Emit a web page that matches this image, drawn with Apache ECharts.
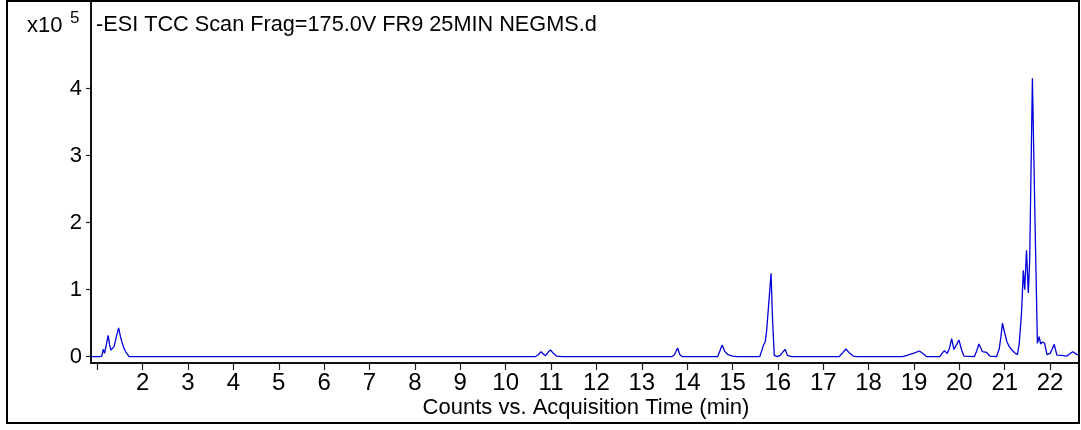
<!DOCTYPE html>
<html>
<head>
<meta charset="utf-8">
<script src="https://cdn.jsdelivr.net/npm/echarts@6/dist/echarts.min.js"></script>
<style>
  html, body { margin: 0; padding: 0; background: #fff; }
  #chart { width: 1081px; height: 430px; }
</style>
</head>
<body>
<div id="chart"></div>
<script>
// Retention time (min)
const times = [
  0.86, 1.05, 1.10, 1.13, 1.16, 1.20, 1.24, 1.27, 1.30, 1.34, 1.37, 1.42, 1.47, 1.51, 1.55, 1.59, 1.63, 1.70,
  10.65, 10.72, 10.78, 10.83, 10.88, 10.94, 10.99, 11.05, 11.12, 11.25,
  13.66, 13.72, 13.79, 13.84, 13.90,
  14.67, 14.72, 14.77, 14.83, 14.90, 15.00, 15.10,
  15.60, 15.65, 15.68, 15.72, 15.75, 15.80, 15.85, 15.88, 15.92, 15.99, 16.05, 16.10, 16.16, 16.21, 16.30,
  17.35, 17.43, 17.50, 17.57, 17.66, 17.75,
  18.75, 18.85, 18.91, 19.00, 19.12, 19.21, 19.28,
  19.57, 19.62, 19.67, 19.73, 19.78, 19.83, 19.88, 19.94, 19.99, 20.05, 20.10,
  20.33, 20.38, 20.43, 20.48, 20.51, 20.55, 20.60, 20.67, 20.82,
  20.88, 20.92, 20.95, 21.00, 21.05, 21.10, 21.16, 21.22, 21.28,
  21.32, 21.37, 21.41, 21.44, 21.48, 21.52, 21.55, 21.58, 21.61, 21.63, 21.67, 21.72,
  21.76, 21.79, 21.83, 21.88, 21.93, 22.00, 22.05, 22.09, 22.15, 22.25, 22.37, 22.45, 22.50, 22.59, 22.64
];
// Counts (x10^5)
const counts = [
  0.0, 0.0, 0.01, 0.11, 0.05, 0.07, 0.32, 0.18, 0.10, 0.11, 0.15, 0.30, 0.43, 0.30, 0.20, 0.12, 0.07, 0.0,
  0.0, 0.03, 0.075, 0.04, 0.015, 0.07, 0.10, 0.05, 0.01, 0.0,
  0.0, 0.03, 0.13, 0.03, 0.0,
  0.0, 0.08, 0.175, 0.08, 0.03, 0.01, 0.0,
  0.0, 0.10, 0.17, 0.22, 0.37, 0.80, 1.245, 0.60, 0.02, 0.0, 0.02, 0.06, 0.11, 0.02, 0.0,
  0.0, 0.06, 0.115, 0.06, 0.01, 0.0,
  0.0, 0.02, 0.035, 0.055, 0.085, 0.04, 0.0,
  0.0, 0.05, 0.09, 0.05, 0.12, 0.27, 0.11, 0.18, 0.25, 0.10, 0.01,
  0.0, 0.08, 0.19, 0.12, 0.075, 0.08, 0.065, 0.01, 0.0,
  0.12, 0.32, 0.50, 0.35, 0.22, 0.15, 0.10, 0.06, 0.03,
  0.20, 0.65, 1.29, 1.00, 1.59, 0.95, 1.44, 2.80, 4.155, 4.155, 1.94, 0.20,
  0.30, 0.19, 0.22, 0.20, 0.03, 0.05, 0.12, 0.185, 0.025, 0.02, 0.01, 0.05, 0.075, 0.035, 0.02
];
const xTickValues = [1,2,3,4,5,6,7,8,9,10,11,12,13,14,15,16,17,18,19,20,21,22];
const xLabelValues = [2,3,4,5,6,7,8,9,10,11,12,13,14,15,16,17,18,19,20,21,22];
const yTickValues = [0,1,2,3,4];
const titleText = '-ESI TCC Scan Frag=175.0V FR9 25MIN NEGMS.d';
const xAxisTitle = 'Counts vs. Acquisition Time (min)';

const seriesData = times.map((t, i) => [t, counts[i]]);
const FONT = "'Liberation Sans', Arial, sans-serif";

const chart = echarts.init(document.getElementById('chart'), null, { renderer: 'canvas' });
chart.setOption({
  animation: false,
  backgroundColor: '#ffffff',
  grid: { left: 91, top: 1, right: 2, bottom: 67, containLabel: false },
  xAxis: {
    type: 'value',
    min: 0.861,
    max: 22.637,
    axisLine: { show: true, onZero: false, lineStyle: { color: '#111', width: 2 } },
    axisTick: { show: true, customValues: xTickValues, length: 7, lineStyle: { color: '#222', width: 1.2 } },
    axisLabel: { show: true, customValues: xLabelValues, margin: 8, color: '#000', fontSize: 24, fontFamily: FONT },
    splitLine: { show: false }
  },
  yAxis: {
    type: 'value',
    min: -0.094,
    max: 5.309,
    axisLine: { show: true, onZero: false, lineStyle: { color: '#111', width: 2 } },
    axisTick: { show: true, customValues: yTickValues, length: 5, lineStyle: { color: '#222', width: 1.2 } },
    axisLabel: { show: true, customValues: yTickValues, margin: 9, color: '#000', fontSize: 22, fontFamily: FONT },
    splitLine: { show: false }
  },
  series: [{
    type: 'line',
    data: seriesData,
    showSymbol: false,
    smooth: false,
    lineStyle: { color: '#0000dd', width: 1.3 },
    clip: true
  }],
  graphic: [
    { type: 'rect', shape: { x: 7, y: 1, width: 1072, height: 422 }, style: { fill: 'none', stroke: '#000', lineWidth: 2 }, silent: true, z: 100 },
    { type: 'text', left: 96, top: 14, style: { text: titleText, fill: '#000', font: '21.7px ' + FONT }, z: 100 },
    { type: 'text', left: 27, top: 15, style: { text: 'x10', fill: '#000', font: '22px ' + FONT }, z: 100 },
    { type: 'text', left: 70, top: 10, style: { text: '5', fill: '#000', font: '17px ' + FONT }, z: 100 },
    { type: 'text', x: 586, y: 408, style: { text: xAxisTitle, fill: '#000', font: '22px ' + FONT, align: 'center', verticalAlign: 'middle' }, z: 100 }
  ]
});
</script>
</body>
</html>
